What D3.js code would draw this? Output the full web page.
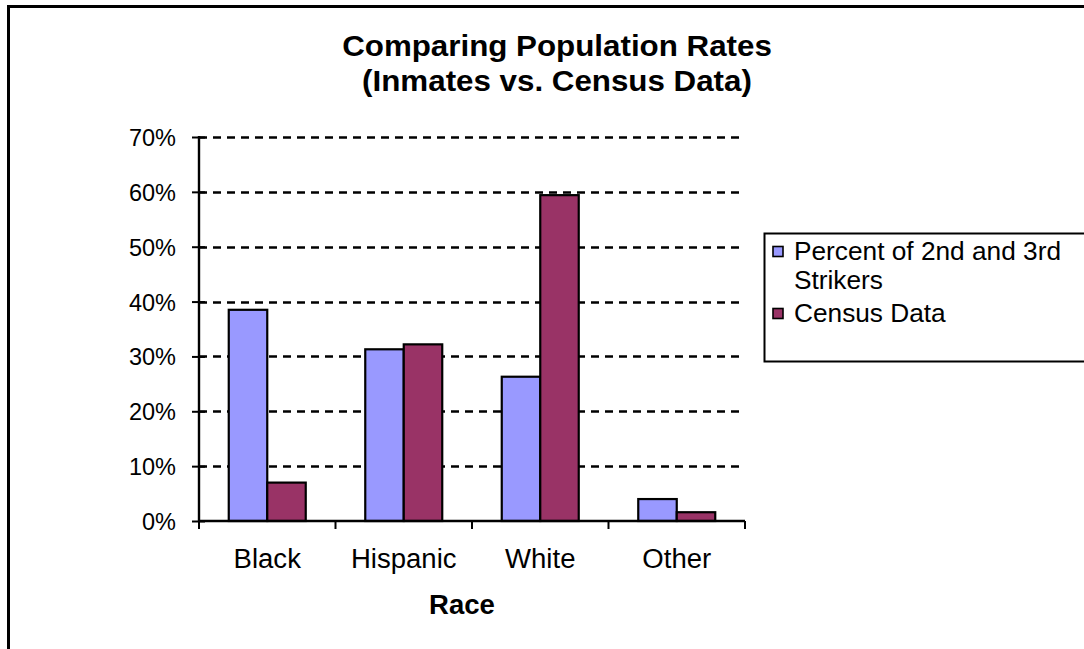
<!DOCTYPE html>
<html>
<head>
<meta charset="utf-8">
<script src="https://cdn.jsdelivr.net/npm/d3@7"></script>
<style>
  html, body { margin: 0; padding: 0; background: #fff; }
  svg { display: block; }
  text { font-family: "Liberation Sans", Arial, sans-serif; fill: #000; }
</style>
</head>
<body>
<svg id="chart" width="1084" height="649"></svg>
<script>
const categories = ["Black", "Hispanic", "White", "Other"];
const seriesNames = ["Percent of 2nd and 3rd Strikers", "Census Data"];
const strikers = [0.385, 0.313, 0.263, 0.040];
const census = [0.070, 0.322, 0.594, 0.016];
const yTicks = [0, 0.1, 0.2, 0.3, 0.4, 0.5, 0.6, 0.7];
const titleLines = ["Comparing Population Rates", "(Inmates vs. Census Data)"];
const xTitle = "Race";
const legendLines = [["Percent of 2nd and 3rd", "Strikers"], ["Census Data"]];
const colors = ["#9999FF", "#993366"];

const svg = d3.select("#chart");

// outer border
svg.append("rect")
  .attr("x", 8.5).attr("y", 6.5)
  .attr("width", 1100).attr("height", 700)
  .attr("fill", "#fff").attr("stroke", "#000").attr("stroke-width", 3);

const plot = { left: 199, right: 745, top: 137, bottom: 521 };

const y = d3.scaleLinear().domain([0, 0.7]).range([plot.bottom, plot.top]);
const x0 = d3.scaleBand().domain(categories).range([plot.left, plot.right])
  .paddingInner(0.436).paddingOuter(0.218);
const x1 = d3.scaleBand().domain(seriesNames).range([0, x0.bandwidth()]);

const data = categories.map((c, i) => ({ cat: c, vals: [strikers[i], census[i]] }));

// gridlines
svg.append("g").selectAll("line")
  .data(yTicks.filter(t => t > 0))
  .join("line")
  .attr("x1", plot.left).attr("x2", plot.right)
  .attr("y1", d => Math.round(y(d)) + 0.5).attr("y2", d => Math.round(y(d)) + 0.5)
  .attr("stroke", "#000").attr("stroke-width", 2.4)
  .attr("stroke-dasharray", "8,6");

// bars
const groups = svg.append("g").selectAll("g")
  .data(data).join("g")
  .attr("transform", d => `translate(${x0(d.cat)},0)`);
groups.selectAll("rect")
  .data(d => d.vals.map((v, j) => ({ v, s: seriesNames[j], j })))
  .join("rect")
  .attr("x", d => x1(d.s))
  .attr("width", x1.bandwidth())
  .attr("y", d => y(d.v))
  .attr("height", d => y(0) - y(d.v))
  .attr("fill", d => colors[d.j])
  .attr("stroke", "#000").attr("stroke-width", 2.2);

// y axis
const yAxis = d3.axisLeft(y).tickValues(yTicks).tickFormat(d3.format(".0%"))
  .tickSize(0).tickPadding(0);
const yg = svg.append("g").attr("transform", `translate(${plot.left},0)`).call(yAxis);
yg.select(".domain").remove();
yg.selectAll(".tick text").remove();
yg.selectAll(".tick").append("line")
  .attr("x1", -7).attr("x2", 6).attr("stroke", "#000").attr("stroke-width", 2);
yg.selectAll(".tick").append("text")
  .attr("text-anchor", "end")
  .attr("transform", "translate(-23,0)")
  .attr("dy", "0.36em")
  .style("font-size", "23.5px")
  .text(d => d3.format(".0%")(d));
yg.append("line").attr("x1", 0).attr("x2", 0)
  .attr("y1", plot.top - 1).attr("y2", plot.bottom + 1)
  .attr("stroke", "#000").attr("stroke-width", 2.4);

// x axis baseline and ticks at band boundaries
svg.append("line")
  .attr("x1", plot.left).attr("x2", plot.right)
  .attr("y1", y(0)).attr("y2", y(0))
  .attr("stroke", "#000").attr("stroke-width", 2.4);
const bounds = d3.range(categories.length + 1).map(i => x0.range()[0] + i * x0.step());
svg.append("g").selectAll("line").data(bounds).join("line")
  .attr("x1", d => d).attr("x2", d => d)
  .attr("y1", y(0)).attr("y2", y(0) + 8)
  .attr("stroke", "#000").attr("stroke-width", 2);

// category labels
svg.append("g").selectAll("text").data(categories).join("text")
  .attr("transform", d => `translate(${x0(d) + x0.bandwidth() / 2},568) scale(1.02,1)`)
  .attr("text-anchor", "middle")
  .style("font-size", "27px")
  .text(d => d);

// x title
svg.append("text")
  .attr("transform", `translate(462,614) scale(1.02,1)`)
  .attr("text-anchor", "middle")
  .style("font-size", "27px").style("font-weight", "bold")
  .text(xTitle);

// chart title
svg.append("g").selectAll("text").data(titleLines).join("text")
  .attr("transform", (d, i) => `translate(557,${55.5 + i * 35}) scale(1.08,1)`)
  .attr("text-anchor", "middle")
  .style("font-size", "29px").style("font-weight", "bold")
  .text(d => d);

// legend
const lg = svg.append("g");
lg.append("rect")
  .attr("x", 764.5).attr("y", 233.5)
  .attr("width", 400).attr("height", 128)
  .attr("fill", "#fff").attr("stroke", "#000").attr("stroke-width", 2);
const itemY = [244, 306];
seriesNames.forEach((s, i) => {
  lg.append("rect")
    .attr("x", 773).attr("y", itemY[i] + 2.5)
    .attr("width", 10).attr("height", 10)
    .attr("fill", colors[i]).attr("stroke", "#000").attr("stroke-width", 1.6);
  legendLines[i].forEach((ln, k) => {
    lg.append("text")
      .attr("transform", `translate(794,${itemY[i] + 16 + k * 29}) scale(1.05,1)`)
      .style("font-size", "25px")
      .text(ln);
  });
});
</script>
</body>
</html>
